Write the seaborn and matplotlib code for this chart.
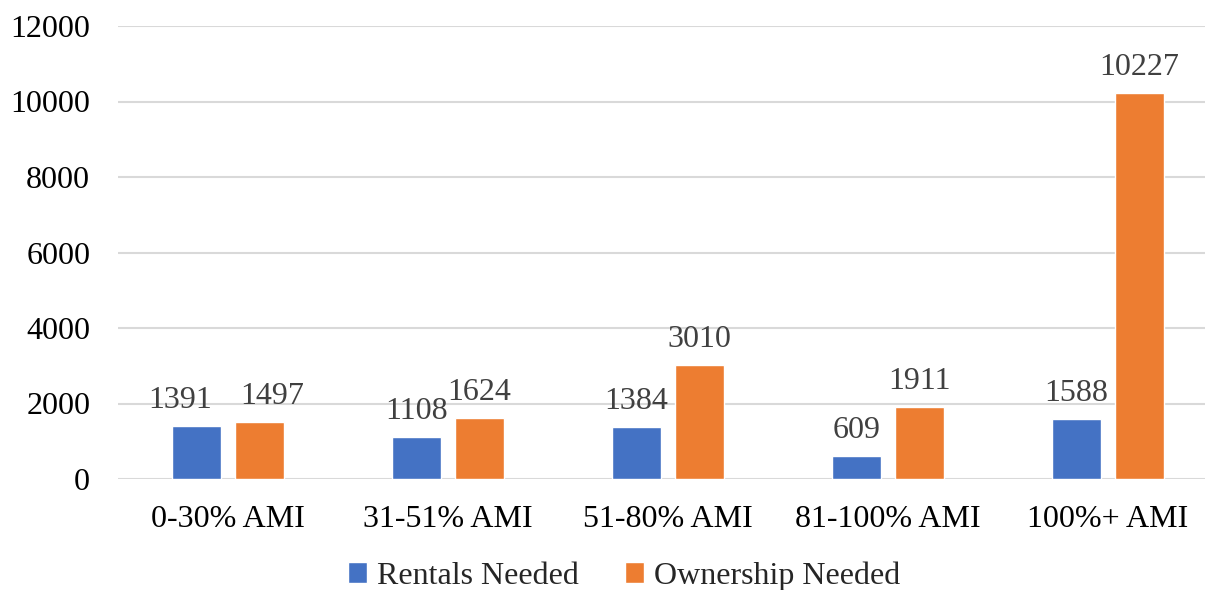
import pandas as pd
import seaborn as sns
import matplotlib.pyplot as plt

# Data
categories = ['0-30% AMI', '31-51% AMI', '51-80% AMI', '81-100% AMI', '100%+ AMI']
rentals = [1391, 1108, 1384, 609, 1588]
ownership = [1497, 1624, 3010, 1911, 10227]
series = ['Rentals Needed', 'Ownership Needed']
colors = ['#4472C4', '#ED7D31']

df = pd.DataFrame({'category': categories * 2,
                   'value': rentals + ownership,
                   'series': [series[0]] * len(categories) + [series[1]] * len(categories)})

sns.set_style('white')
plt.rcParams['font.family'] = ['Liberation Serif', 'DejaVu Serif']

fig = plt.figure(figsize=(12.05, 5.9), dpi=100)
# axes placed in figure pixels: left 118, right 1218, top 26, bottom 479
ax = fig.add_axes([118 / 1205, 1 - 479 / 590, 1100 / 1205, 453 / 590])

sns.barplot(data=df, x='category', y='value', hue='series',
            palette=colors, width=0.573, gap=0.214, ax=ax, saturation=1)

labels = [ax.bar_label(c, fmt='%d', padding=8, fontsize=23, color='#404040')
          for c in ax.containers]

# push apart labels that sit side by side at nearly the same height
fig.canvas.draw()
r = fig.canvas.get_renderer()
for left, right in zip(labels[0], labels[1]):
    b1 = left.get_window_extent(r)
    b2 = right.get_window_extent(r)
    if abs(b1.y0 - b2.y0) < 12:
        need = 20 - (b2.x0 - b1.x1)
        if need > 0:
            left.set_x(left.get_position()[0] - need * 0.55)
            right.set_x(right.get_position()[0] + need * 0.45)

ax.set_xlim(-0.5, len(categories) - 0.5)
ax.set_ylim(0, 12000)
ax.set_yticks(range(0, 12001, 2000))
ax.yaxis.grid(True, color='#D9D9D9', linewidth=1.5)
ax.set_axisbelow(True)
for s in ax.spines.values():
    s.set_visible(False)
ax.tick_params(axis='both', length=0, labelsize=23, colors='black')
ax.tick_params(axis='y', pad=20)
ax.tick_params(axis='x', pad=19)
ax.set_xlabel('')
ax.set_ylabel('')

ax.legend(loc='center', bbox_to_anchor=(624 / 1205, 1 - 576 / 590),
          bbox_transform=fig.transFigure, ncol=2, frameon=False,
          fontsize=23, handlelength=0.6, handleheight=0.6,
          handletextpad=0.3, columnspacing=1.45, borderaxespad=0)

fig.savefig('out.png', dpi=100)
